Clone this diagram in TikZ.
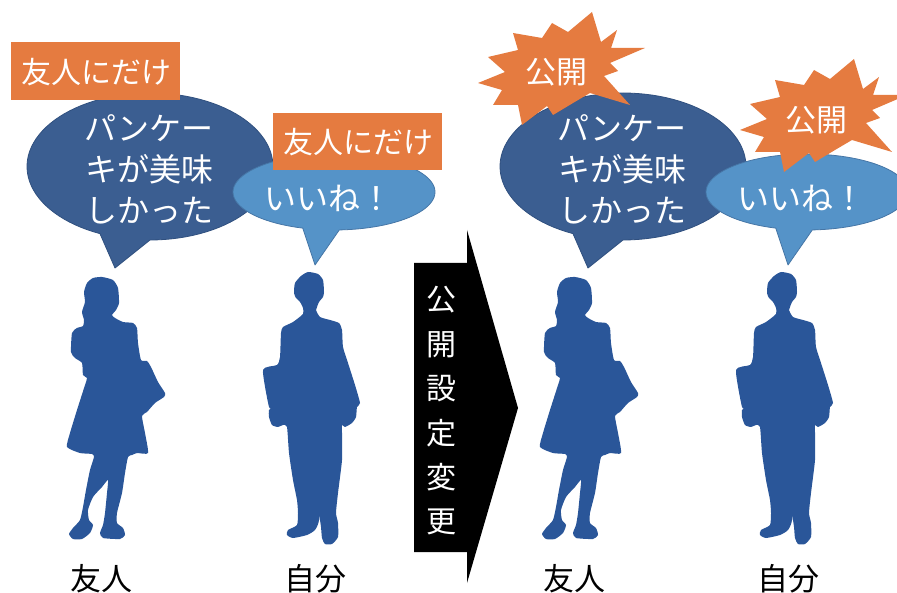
\documentclass[tikz,border=0pt]{standalone}
\usepackage{fontspec}
\newfontfamily\jp{Noto Sans CJK JP}
\definecolor{bubbledark}{HTML}{3B5E91}
\definecolor{bubbledarkline}{HTML}{30507F}
\definecolor{bubblelight}{HTML}{5593C8}
\definecolor{bubblelightline}{HTML}{4676A6}
\definecolor{tagorange}{HTML}{E57B40}
\definecolor{personblue}{HTML}{2A5699}
\tikzset{
  darkbubble/.style={fill=bubbledark, draw=bubbledarkline, line width=0.8pt, line join=round},
  lightbubble/.style={fill=bubblelight, draw=bubblelightline, line width=0.8pt, line join=round},
  person/.style={fill=personblue},
  tagbox/.style={fill=tagorange},
  bigtext/.style={text=white, inner sep=0pt, align=center, font=\jp\fontsize{32}{41}\selectfont},
  tagtext/.style={text=white, inner sep=0pt, font=\jp\fontsize{30}{36}\selectfont},
  bursttext/.style={text=white, inner sep=0pt, font=\jp\fontsize{31}{36}\selectfont},
  nametext/.style={text=black, inner sep=0pt, font=\jp\fontsize{31}{36}\selectfont},
  arrowtext/.style={text=white, inner sep=0pt, align=center, font=\jp\fontsize{30}{44.4}\selectfont},
}
\begin{document}
\begin{tikzpicture}[x=1pt, y=-1pt]
\useasboundingbox (0,0) rectangle (897,593);
\clip (0,0) rectangle (897,593);

% the two panels: friend and me, before and after the privacy change
\foreach \dx/\side in {0/L, 473/R} {
  \begin{scope}[shift={(\dx,0)}]
    % friend's speech bubble
    \path[darkbubble] (115,268)
      -- plot[domain=90:-246, samples=100, variable=\t] ({150+123*cos(\t)},{166.5+73.5*sin(\t)})
      -- cycle;
    \node[bigtext] (post\side) at (149,169) {パンケー\\キが美味\\しかった};
    % my reply bubble
    \path[lightbubble] (315,265)
      -- plot[domain=87:-252, samples=100, variable=\t] ({334+101*cos(\t)},{192+38*sin(\t)})
      -- cycle;
    \node[bigtext] (reply\side) at (328,198) {いいね！};

    % friend (girl with a bag)
    \fill[person] plot[smooth cycle, tension=0.35] coordinates {
      (102,277) (113,280) (118,288) (119,303) (116,310) (112,315)
      (115,318) (123,322) (133,323) (137,328) (138,343) (141,360)
      (147,361) (151,367) (158,382) (165,393) (164,397) (155,403)
      (147,412) (142,416) (145,433) (148,453) (137,453) (132,455)
      (128,457) (125,473) (122,493) (117,513) (117,523) (123,528)
      (125,535) (120,539) (103,538) (100,533) (103,525) (105,513)
      (107,493) (108,480) (102,487) (93,497) (88,510) (89,520)
      (93,525) (90,533) (82,539) (73,539) (69,534) (73,528)
      (80,520) (83,507) (86,490) (90,470) (94,457) (92,454)
      (80,453) (67,447) (70,433) (77,410) (85,385) (87,378)
      (83,375) (82,363) (75,358) (71,352) (72,333) (77,328)
      (83,326) (84,320) (82,312) (85,302) (84,292) (87,283) (93,278)};

    % me (boy holding a folder)
    \fill[person] plot[smooth cycle, tension=0.35] coordinates {
      (308,272) (318,274) (323,280) (324,292) (323,297) (319,302)
      (317,307) (316,310) (320,317) (330,320) (339,323) (342,330)
      (343,347) (348,363) (355,385) (360,403) (357,407) (356,417)
      (352,423) (345,427) (342,425) (342,433) (342,460) (338,493)
      (336,513) (338,523) (338,537) (332,544) (325,544) (322,538)
      (321,527) (319,513) (317,493) (316,467) (315,445) (318,490)
      (319,520) (315,530) (307,535) (293,538) (287,535) (288,530)
      (297,525) (298,513) (297,500) (293,480) (289,453) (287,427)
      (283,425) (278,427) (272,425) (269,417) (269,410) (273,407)
      (269,407) (263,370) (277,365) (280,357) (281,333) (283,327)
      (293,322) (303,314) (303,308) (300,302) (296,298) (294,293)
      (295,283) (301,276)};

    % names under the figures
    \node[nametext] (friend\side) at (101,579) {友人};
    \node[nametext] (me\side) at (315,579) {自分};
  \end{scope}
}

% before: both posts are visible to friends only
\fill[tagbox] (11,42) rectangle (180,100);
\node[tagtext] (tagpost) at (96,72) {友人にだけ};
\fill[tagbox] (273,113) rectangle (442,170);
\node[tagtext] (tagreply) at (358,142) {友人にだけ};

% after: both posts become public
\foreach \sx/\sy/\nm in {0/0/burstpost, 262/47/burstreply} {
  \fill[tagorange, shift={(\sx,\sy)}]
    (592,12) -- (601,42) -- (617,30) -- (611,48) -- (645,48) -- (610,63)
    -- (618,71) -- (604,76) -- (630,105) -- (590,93) -- (573,103)
    -- (553,115) -- (547,106) -- (522,125) -- (518,105) -- (493,105)
    -- (502,90) -- (478,83) -- (505,72) -- (488,57) -- (518,50)
    -- (513,33) -- (542,38) -- (552,23) -- (568,32) -- cycle;
}
\node[bursttext] (publicpost) at (556,72) {公開};
\node[bursttext] (publicreply) at (816,120) {公開};

% the change of privacy setting
\fill[black] (414,263) -- (467,263) -- (467,230) -- (518,408)
  -- (467,583) -- (467,552) -- (414,552) -- cycle;
\node[arrowtext] (change) at (441,411) {公\\開\\設\\定\\変\\更};
\end{tikzpicture}
\end{document}
